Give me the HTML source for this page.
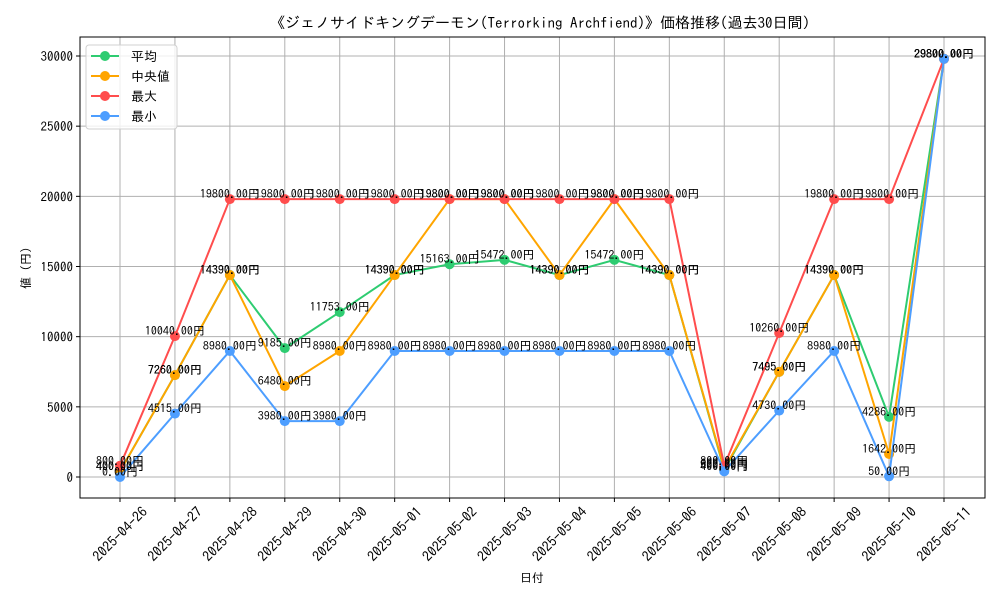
<!DOCTYPE html>
<html><head><meta charset="utf-8"><style>
body{margin:0;background:#fff}
svg text{font-family:"IPAGothic","Liberation Sans","Noto Sans CJK JP",sans-serif;fill:#000}
</style></head><body>
<svg id="chart" width="1000" height="600" xmlns="http://www.w3.org/2000/svg"></svg>
<script>
const dates=["2025-04-26","2025-04-27","2025-04-28","2025-04-29","2025-04-30","2025-05-01","2025-05-02","2025-05-03","2025-05-04","2025-05-05","2025-05-06","2025-05-07","2025-05-08","2025-05-09","2025-05-10","2025-05-11"];
const avgVals=[400,7260,14390,9185,11753,14390,15163,15472,14390,15472,14390,500,7495,14390,4286,29800];
const medVals=[400,7260,14390,6480,8980,14390,19800,19800,14390,19800,14390,600,7495,14390,1642,29800];
const maxVals=[800,10040,19800,19800,19800,19800,19800,19800,19800,19800,19800,800,10260,19800,19800,29800];
const minVals=[0,4515,8980,3980,3980,8980,8980,8980,8980,8980,8980,400,4730,8980,50,29800];
const yTicks=[0,5000,10000,15000,20000,25000,30000];
const seriesNames=["平均","中央値","最大","最小"];

const svg=document.getElementById('chart');
const NS="http://www.w3.org/2000/svg";
const L=80,R=985,T=37,B=498;
const x=i=>120+i*(944-120)/(dates.length-1);
const y=v=>477-v*(477-56)/30000;
function mk(tag,attrs,parent){const e=document.createElementNS(NS,tag);for(const k in attrs)e.setAttribute(k,attrs[k]);(parent||svg).appendChild(e);return e;}

let t=mk('text',{x:540,y:28,'font-size':15,'text-anchor':'middle'});t.textContent="《ジェノサイドキングデーモン(Terrorking Archfiend)》価格推移(過去30日間)";



const grid=mk('g',{});


dates.forEach((d,i)=>{
  mk('line',{x1:x(i),x2:x(i),y1:T,y2:B,stroke:'#b0b0b0','stroke-width':1},grid);
  mk('line',{x1:x(i),x2:x(i),y1:B,y2:B+4,stroke:'#000'},grid);
  const lb=mk('text',{transform:`translate(${x(i)},${B+36}) rotate(-45)`,'font-size':14,'text-anchor':'middle','dominant-baseline':'central'});
  lb.textContent=d;
  
  
});
yTicks.forEach(v=>{
  mk('line',{x1:L,x2:R,y1:y(v),y2:y(v),stroke:'#b0b0b0','stroke-width':1},grid);
  mk('line',{x1:L-4,x2:L,y1:y(v),y2:y(v),stroke:'#000'},grid);
  const lb=mk('text',{x:L-7,y:y(v)+5,'font-size':13,'text-anchor':'end'});
  lb.textContent=v;
  
  
});
const frame=mk('rect',{x:L,y:T,width:R-L,height:B-T,fill:'none',stroke:'#000','stroke-width':1});


let xt=mk('text',{x:532,y:582,'font-size':12,'text-anchor':'middle'});xt.textContent="日付";


let yt=mk('text',{transform:'translate(30,268) rotate(-90)','font-size':12,'text-anchor':'middle'});yt.textContent="値 (円)";



const series=[[avgVals,'#2ecc71','avg'],[medVals,'#ffa500','median'],[maxVals,'#ff4d4d','max'],[minVals,'#4d9eff','min']];
series.forEach(([vals,col,nm])=>{
  const g=mk('g',{});
  
  
  mk('polyline',{points:vals.map((v,i)=>x(i)+','+y(v)).join(' '),fill:'none',stroke:col,'stroke-width':2},g);
  vals.forEach((v,i)=>{
    const c=mk('circle',{cx:x(i),cy:y(v),r:5,fill:col},g);
    
    
  });
});
series.forEach(([vals,col,nm])=>{
  vals.forEach((v,i)=>{
    const lb=mk('text',{x:x(i),y:y(v)-1,'font-size':12,'text-anchor':'middle'});
    lb.textContent=v.toFixed(2)+"円";
    
    
  });
});

const lg=mk('g',{});


mk('rect',{x:86,y:45,width:91,height:84,rx:3,fill:'#fff','fill-opacity':0.8,stroke:'#d0d0d0'},lg);
series.forEach(([vals,col,nm],k)=>{
  const yy=56+k*20;
  const e=mk('g',{},lg);
  
  
  mk('line',{x1:91,x2:119,y1:yy,y2:yy,stroke:col,'stroke-width':2},e);
  mk('circle',{cx:105,cy:yy,r:5,fill:col},e);
  const tx=mk('text',{x:131,y:yy+5,'font-size':13},e);tx.textContent=seriesNames[k];
});
</script>
</body></html>
